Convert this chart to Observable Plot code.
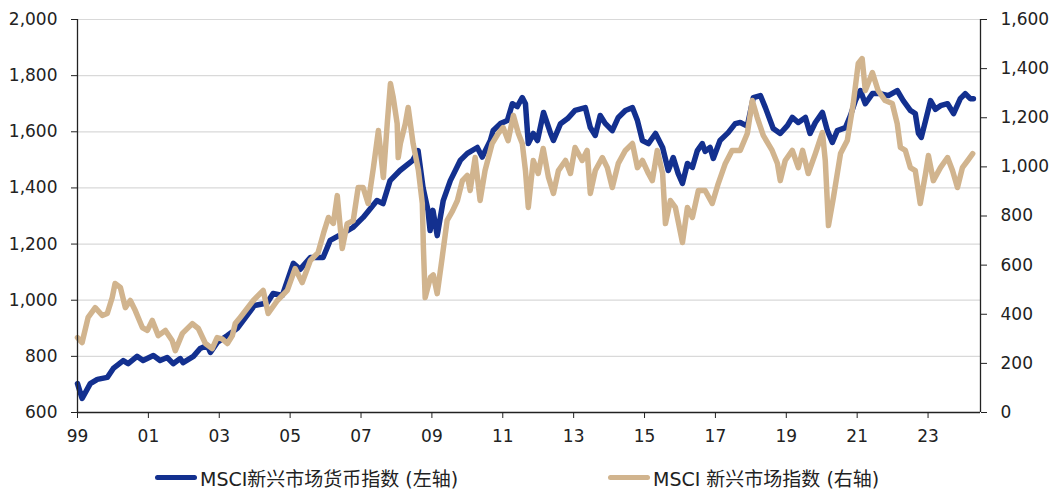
<!DOCTYPE html>
<html>
<head>
<meta charset="utf-8">
<script src="https://cdn.jsdelivr.net/npm/d3@7"></script>
<script src="https://cdn.jsdelivr.net/npm/@observablehq/plot@0.6"></script>
<style>
  html, body { margin: 0; padding: 0; background: #fff; }
  #wrap { width: 1052px; font-family: "DejaVu Sans", "Noto Sans CJK SC", sans-serif; color: #222; }
  #legend { position: relative; width: 1052px; height: 38px; font-size: 19px; }
  .item { position: absolute; top: 9px; display: flex; align-items: center; white-space: nowrap; }
  .sw { width: 42px; height: 5px; border-radius: 3px; margin-right: 3px; }
</style>
</head>
<body>
<div id="wrap">
  <div id="chart"></div>
  <div id="legend"></div>
</div>
<script>
// ---- Data ----
const seriesNames = ["MSCI新兴市场货币指数 (左轴)", "MSCI 新兴市场指数 (右轴)"];
const seriesColors = ["#13308f", "#d1b48e"];

// MSCI EM currency index (left axis)
const fxYears = [1999.00,1999.13,1999.36,1999.56,1999.84,2000.01,2000.29,2000.43,2000.68,2000.85,
  2001.14,2001.33,2001.53,2001.70,2001.90,2001.98,2002.27,2002.46,2002.66,2002.75,2002.94,2003.23,
  2003.51,2003.99,2004.35,2004.52,2004.78,2005.09,2005.28,2005.57,2005.93,2006.13,2006.49,2006.77,
  2007.06,2007.45,2007.62,2007.82,2008.10,2008.46,2008.61,2008.75,2008.89,2008.95,2009.03,2009.15,
  2009.32,2009.52,2009.80,2010.00,2010.28,2010.42,2010.65,2010.73,2010.93,2011.13,2011.27,2011.41,
  2011.55,2011.64,2011.72,2011.86,2011.98,2012.15,2012.35,2012.43,2012.63,2012.83,2013.04,2013.33,
  2013.47,2013.61,2013.75,2013.89,2014.09,2014.26,2014.46,2014.66,2014.80,2014.94,2015.11,2015.31,
  2015.51,2015.67,2015.81,2015.95,2016.07,2016.21,2016.35,2016.49,2016.63,2016.71,2016.85,2016.94,
  2017.13,2017.36,2017.56,2017.70,2017.90,2018.07,2018.27,2018.41,2018.63,2018.83,2019.03,2019.17,
  2019.34,2019.54,2019.67,2019.82,2020.02,2020.16,2020.30,2020.44,2020.67,2020.81,2020.95,2021.09,
  2021.23,2021.43,2021.65,2021.88,2022.13,2022.30,2022.50,2022.64,2022.73,2022.81,2022.93,2023.07,
  2023.21,2023.35,2023.55,2023.72,2023.91,2024.05,2024.19,2024.28];
const fxValues = [703,650,703,718,725,757,785,774,800,785,
  803,785,796,774,792,778,800,828,839,814,849,874,
  900,981,990,1024,1017,1131,1110,1152,1152,1213,1238,1259,
  1295,1355,1344,1426,1462,1498,1533,1401,1320,1248,1320,1230,
  1355,1426,1498,1523,1544,1510,1569,1605,1629,1640,1700,1690,
  1722,1700,1558,1594,1569,1669,1594,1569,1629,1647,1676,1686,
  1615,1587,1658,1630,1604,1651,1676,1686,1640,1569,1558,1594,
  1544,1462,1508,1451,1416,1487,1473,1533,1558,1530,1544,1505,
  1569,1597,1629,1633,1620,1722,1729,1686,1612,1594,1622,1651,
  1633,1651,1594,1633,1669,1604,1562,1604,1615,1658,1711,1747,
  1700,1736,1736,1729,1747,1711,1676,1665,1594,1580,1640,1711,
  1680,1693,1700,1665,1718,1736,1718,1718];

// MSCI EM index (right axis)
const eqYears = [1999.00,1999.13,1999.30,1999.50,1999.70,1999.84,1999.98,2000.06,2000.21,2000.35,
  2000.49,2000.63,2000.83,2000.97,2001.11,2001.28,2001.48,2001.67,2001.76,2001.96,2002.24,2002.41,
  2002.61,2002.80,2002.94,2003.08,2003.23,2003.37,2003.45,2003.59,2003.96,2004.24,2004.38,2004.64,
  2004.92,2005.14,2005.34,2005.57,2005.79,2005.94,2006.08,2006.22,2006.33,2006.47,2006.61,2006.78,
  2006.92,2007.06,2007.20,2007.35,2007.49,2007.63,2007.74,2007.83,2007.91,2008.02,2008.05,2008.11,
  2008.25,2008.33,2008.47,2008.62,2008.73,2008.76,2008.81,2008.96,2009.04,2009.15,2009.29,2009.43,
  2009.58,2009.72,2009.86,2010.00,2010.08,2010.22,2010.36,2010.50,2010.70,2010.87,2011.01,2011.15,
  2011.30,2011.44,2011.55,2011.64,2011.72,2011.86,2012.00,2012.14,2012.29,2012.43,2012.57,2012.77,
  2012.91,2013.04,2013.24,2013.38,2013.47,2013.61,2013.81,2013.95,2014.09,2014.26,2014.46,2014.66,
  2014.80,2014.94,2015.11,2015.22,2015.36,2015.51,2015.59,2015.73,2015.87,2016.07,2016.21,2016.35,
  2016.52,2016.71,2016.91,2017.08,2017.28,2017.47,2017.70,2017.90,2018.04,2018.18,2018.35,2018.60,
  2018.75,2018.83,2018.97,2019.17,2019.34,2019.46,2019.62,2019.82,2020.02,2020.10,2020.19,2020.33,
  2020.53,2020.72,2020.89,2021.03,2021.14,2021.23,2021.43,2021.59,2021.79,2021.99,2022.13,2022.22,
  2022.36,2022.50,2022.64,2022.78,2022.93,2023.01,2023.15,2023.35,2023.55,2023.69,2023.83,2023.97,
  2024.12,2024.26];
const eqValues = [305,285,387,427,395,403,468,525,509,427,
  456,415,346,334,375,313,334,293,252,322,362,342,
  281,260,305,300,281,313,362,387,456,497,403,456,
  497,586,529,619,651,729,794,770,883,668,769,781,
  916,916,851,997,1148,957,1176,1339,1282,1176,1038,1095,
  1176,1242,1095,985,851,672,468,550,560,484,631,782,
  820,863,944,965,904,1038,863,985,1095,1136,1160,1107,
  1209,1136,1095,985,835,1026,973,1075,957,892,985,1026,
  973,1079,1026,1067,892,985,1038,997,916,1014,1067,1095,
  997,1026,973,944,1067,973,769,863,835,692,835,794,
  904,904,851,932,1014,1067,1067,1136,1270,1201,1128,1067,
  1014,944,1026,1067,997,1067,973,1054,1140,1026,761,875,
  1054,1107,1258,1421,1441,1311,1384,1311,1270,1258,1176,1079,
  1067,997,985,851,973,1046,944,997,1038,985,916,997,
  1026,1054];

const xTicks = [1999,2001,2003,2005,2007,2009,2011,2013,2015,2017,2019,2021,2023];
const leftTicks = [600,800,1000,1200,1400,1600,1800,2000];
const rightTicks = [0,200,400,600,800,1000,1200,1400,1600];

// ---- Build tables ----
const leftMin = 600, leftMax = 2000, rightMax = 1600;
const toLeft = v => leftMin + v * (leftMax - leftMin) / rightMax;
const fromLeft = d => (d - leftMin) * rightMax / (leftMax - leftMin);
const xMin = 1999, xMax = 2024.48;

const fxData = fxYears.map((t, i) => ({t, v: fxValues[i]}));
const eqData = eqYears.map((t, i) => ({t, v: toLeft(eqValues[i])}));
const fmt = d3.format(",");

const chart = Plot.plot({
  width: 1052,
  height: 455,
  marginLeft: 77,
  marginRight: 72,
  marginTop: 19,
  marginBottom: 43,
  style: {fontFamily: "DejaVu Sans, Noto Sans CJK SC, sans-serif", fontSize: "17px", color: "#222", background: "#fff"},
  x: {domain: [xMin, xMax]},
  y: {domain: [leftMin, leftMax]},
  marks: [
    Plot.ruleY(leftTicks.filter(d => d > leftMin), {stroke: "#d9d9d9", strokeWidth: 1.2}),
    Plot.line(fxData, {x: "t", y: "v", stroke: seriesColors[0], strokeWidth: 5.5, strokeLinejoin: "round", strokeLinecap: "round"}),
    Plot.line(eqData, {x: "t", y: "v", stroke: seriesColors[1], strokeWidth: 5.5, strokeLinejoin: "round", strokeLinecap: "round"}),
    Plot.ruleX([xMin], {stroke: "#222", strokeWidth: 1.3}),
    Plot.ruleX([xMax], {stroke: "#222", strokeWidth: 1.3}),
    Plot.ruleY([leftMin], {stroke: "#222", strokeWidth: 1.3}),
    Plot.axisX(xTicks, {anchor: "bottom", tickSize: 6, tickPadding: 11, tickFormat: d => String(d % 100).padStart(2, "0"), label: null}),
    Plot.axisY(leftTicks, {anchor: "left", tickSize: 6, tickPadding: 14, tickFormat: fmt, label: null}),
    Plot.axisY(rightTicks.map(toLeft), {anchor: "right", tickSize: 6, tickPadding: 14, tickFormat: d => fmt(Math.round(fromLeft(d))), label: null})
  ]
});
document.getElementById("chart").appendChild(chart);

// ---- Legend ----
const legend = document.getElementById("legend");
const legendLeft = [155, 608];
seriesNames.forEach((name, i) => {
  const it = document.createElement("div");
  it.className = "item";
  it.style.left = legendLeft[i] + "px";
  const sw = document.createElement("div");
  sw.className = "sw";
  sw.style.background = seriesColors[i];
  const tx = document.createElement("span");
  tx.textContent = name;
  it.appendChild(sw);
  it.appendChild(tx);
  legend.appendChild(it);
});
</script>
</body>
</html>
